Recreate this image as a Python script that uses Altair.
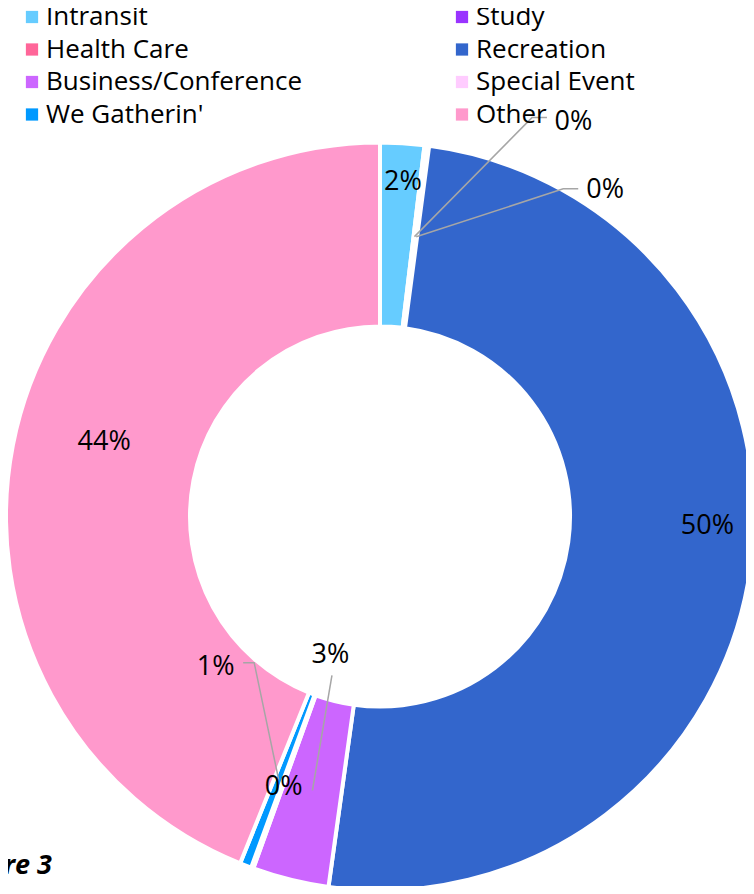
import math
import altair as alt
import pandas as pd

# ---- data ----
categories = ["Intransit", "Study", "Health Care", "Recreation",
              "Business/Conference", "Special Event", "We Gatherin'", "Other"]
shares = [1.9, 0.1, 0.1, 50.1, 3.3, 0.1, 0.5, 43.9]
colors = ["#66CCFF", "#9933FF", "#FF6699", "#3366CC",
          "#CC66FF", "#FFCCFF", "#0099FF", "#FF99CC"]

# ---- layout (pixels) ----
W, H = 738, 878
CX, CY = 372, 508.5          # donut centre in view coordinates
R_IN, R_OUT = 190, 374
R_MID = (R_IN + R_OUT) / 2
# label offset from each slice's mid-ring anchor
label_dx = [6, 159, 189, 48, 18, 0, -63, 1]
label_dy = [-53, -115, -47, -28, -135, 5, -113, -21]
# leader lines (elbow and end, relative to label centre); None = no leader
lead_elbow = [None, (-41.5, -4), (-42, -1), None, (1.5, 20), None, (38.5, -4), None]
lead_end = [None, (-26.5, -4), (-27, -1), None, (1.5, 20), None, (27.5, -4), None]

total = sum(shares)
rows, lab_rows, line_rows = [], [], []
cum = 0.0
for i, (c, v) in enumerate(zip(categories, shares)):
    mid = (cum + v / 2) / total * 2 * math.pi
    cum += v
    ax = CX + R_MID * math.sin(mid)
    ay = CY - R_MID * math.cos(mid)
    lx, ly = ax + label_dx[i], ay + label_dy[i]
    rows.append({"category": c, "share": v, "idx": i})
    lab_rows.append({"category": c, "x": lx, "y": ly,
                     "label": f"{int(v / total * 100 + 0.5)}%"})
    if lead_elbow[i] is not None:
        pts = [(ax, ay), (lx + lead_elbow[i][0], ly + lead_elbow[i][1]),
               (lx + lead_end[i][0], ly + lead_end[i][1])]
        for k, (px, py) in enumerate(pts):
            line_rows.append({"category": c, "k": k, "x": px, "y": py})

df = pd.DataFrame(rows)
lab = pd.DataFrame(lab_rows)
lines = pd.DataFrame(line_rows)

xs = alt.Scale(domain=[0, W], range=[0, W], zero=False, nice=False)
ys = alt.Scale(domain=[0, H], range=[0, H], zero=False, nice=False)

arc = alt.Chart(df).mark_arc(
    innerRadius=R_IN, outerRadius=R_OUT, stroke="white", strokeWidth=4
).encode(
    theta=alt.Theta("share:Q", stack=True),
    order=alt.Order("idx:Q"),
    color=alt.Color(
        "category:N",
        scale=alt.Scale(domain=categories, range=colors),
        sort=categories,
        legend=alt.Legend(
            title=None, orient="none", legendX=11, legendY=-4, columns=2,
            direction="horizontal",
            symbolType="square", symbolSize=150, symbolStrokeWidth=0,
            labelFontSize=26, labelFont="Open Sans", labelColor="black",
            labelOffset=1, rowPadding=6.5, columnPadding=146, padding=0,
            labelLimit=400,
        ),
    ),
    x=alt.value(CX), y=alt.value(CY),
)

leaders = alt.Chart(lines).mark_line(color="#A6A6A6", strokeWidth=1.5).encode(
    x=alt.X("x:Q", scale=xs, axis=None),
    y=alt.Y("y:Q", scale=ys, axis=None),
    detail="category:N",
    order="k:Q",
)

labels = alt.Chart(lab).mark_text(
    font="Open Sans", fontSize=27, color="black", align="center", baseline="middle"
).encode(
    x=alt.X("x:Q", scale=xs, axis=None),
    y=alt.Y("y:Q", scale=ys, axis=None),
    text="label:N",
)

caption = alt.Chart(pd.DataFrame({"t": ["Figure 3"]})).mark_text(
    font="Open Sans", fontSize=27, fontWeight="bold", fontStyle="italic",
    color="black", align="right", baseline="middle"
).encode(x=alt.value(44), y=alt.value(858), text="t:N")

chart = alt.layer(arc, leaders, labels, caption).properties(
    width=W, height=H, padding=0,
    autosize=alt.AutoSizeParams(type="none"),
    background="white",
).configure_view(stroke=None)

chart.save("out.html", embed_options={"renderer": "svg", "actions": False})
